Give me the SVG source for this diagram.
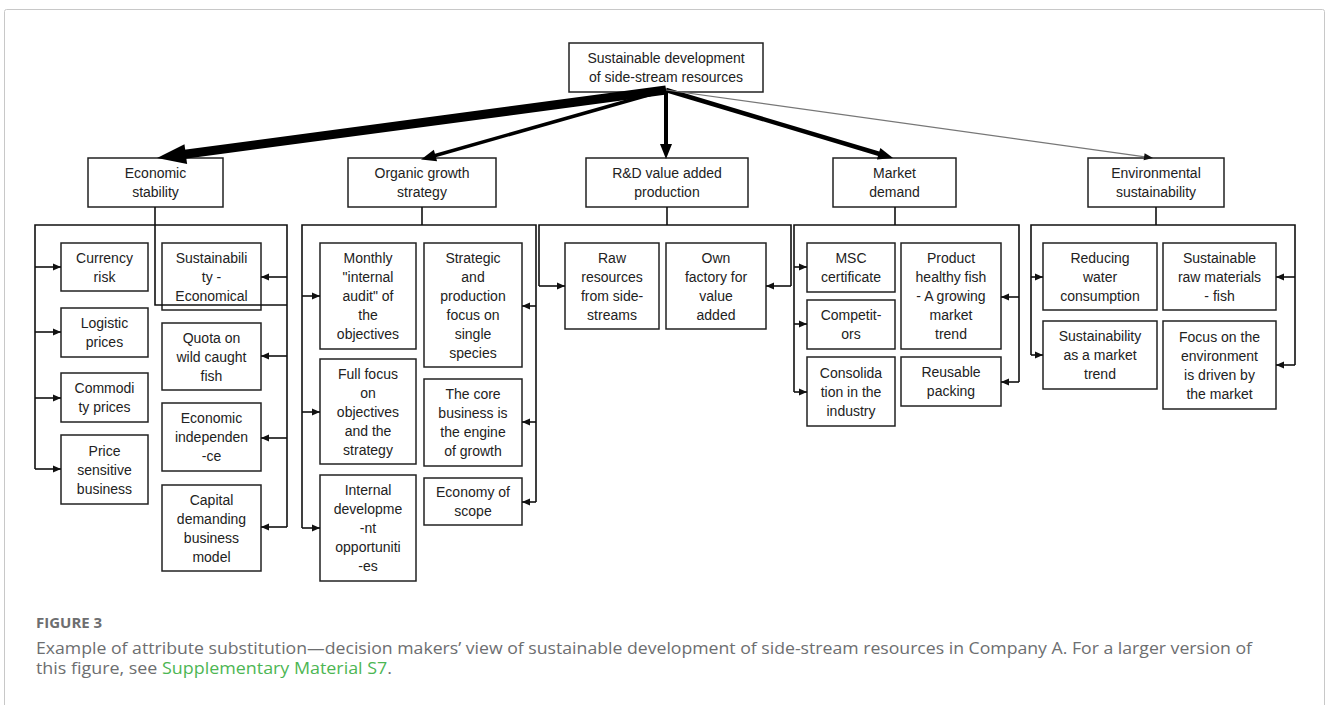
<svg xmlns="http://www.w3.org/2000/svg" width="1328" height="705" viewBox="0 0 1328 705">
<style>
.bx{fill:#fff;stroke:#222;stroke-width:1.5}
.t{font-family:"Liberation Sans",Arial,sans-serif;font-size:14px;fill:#222;text-anchor:middle}
.ln{fill:none;stroke:#111;stroke-width:1.6}
.ar{fill:none;stroke:#111;stroke-width:1.6;marker-end:url(#mb)}
.cap{font-family:"Open Sans","Liberation Sans",sans-serif;fill:#6d6e70}
</style>
<defs>
<marker id="mb" markerUnits="userSpaceOnUse" viewBox="0 0 8 8" markerWidth="8" markerHeight="8" refX="8" refY="4" orient="auto"><path d="M0,0.5 L8,4 L0,7.5 z" fill="#111"/></marker>
<marker id="mxl" markerUnits="userSpaceOnUse" viewBox="0 -10 28 20" markerWidth="28" markerHeight="20" refX="0" refY="0" orient="auto" overflow="visible"><path d="M-1,-10 L28,0 L-1,10 z" fill="#000"/></marker>
<marker id="mmd" markerUnits="userSpaceOnUse" viewBox="0 -6 14 12" markerWidth="14" markerHeight="12" refX="0" refY="0" orient="auto" overflow="visible"><path d="M-1,-6 L14,0 L-1,6 z" fill="#000"/></marker>
<marker id="msm" markerUnits="userSpaceOnUse" viewBox="0 -3.5 8 7" markerWidth="8" markerHeight="7" refX="0" refY="0" orient="auto" overflow="visible"><path d="M-1,-3.5 L8,0 L-1,3.5 z" fill="#111"/></marker>
</defs>
<rect x="4.5" y="9.5" width="1320" height="720" rx="2" fill="none" stroke="#c8c8c8" stroke-width="1"/>

<g id="n-top"><rect class="bx" x="569" y="43" width="194" height="49"/><text class="t"><tspan x="666" y="63">Sustainable development</tspan><tspan x="666" y="82">of side-stream resources</tspan></text></g>

<g id="n-econ"><rect class="bx" x="88" y="158" width="135" height="49"/><text class="t"><tspan x="155.5" y="178">Economic</tspan><tspan x="155.5" y="197">stability</tspan></text></g>
<g id="n-org"><rect class="bx" x="348" y="158" width="148" height="49"/><text class="t"><tspan x="422" y="178">Organic growth</tspan><tspan x="422" y="197">strategy</tspan></text></g>
<g id="n-rd"><rect class="bx" x="586" y="158" width="162" height="49"/><text class="t"><tspan x="667" y="178">R&amp;D value added</tspan><tspan x="667" y="197">production</tspan></text></g>
<g id="n-mkt"><rect class="bx" x="833" y="158" width="123" height="49"/><text class="t"><tspan x="894.5" y="178">Market</tspan><tspan x="894.5" y="197">demand</tspan></text></g>
<g id="n-env"><rect class="bx" x="1088" y="158" width="136" height="49"/><text class="t"><tspan x="1156" y="178">Environmental</tspan><tspan x="1156" y="197">sustainability</tspan></text></g>

<g id="n-currency"><rect class="bx" x="61" y="243" width="87" height="48"/><text class="t"><tspan x="104.5" y="262.5">Currency</tspan><tspan x="104.5" y="281.5">risk</tspan></text></g>
<g id="n-logistic"><rect class="bx" x="61" y="308" width="87" height="49"/><text class="t"><tspan x="104.5" y="328">Logistic</tspan><tspan x="104.5" y="347">prices</tspan></text></g>
<g id="n-commodity"><rect class="bx" x="61" y="373" width="87" height="49"/><text class="t"><tspan x="104.5" y="393">Commodi</tspan><tspan x="104.5" y="412">ty prices</tspan></text></g>
<g id="n-price"><rect class="bx" x="61" y="435" width="87" height="69"/><text class="t"><tspan x="104.5" y="455.5">Price</tspan><tspan x="104.5" y="474.5">sensitive</tspan><tspan x="104.5" y="493.5">business</tspan></text></g>
<g id="n-sustecon"><rect class="bx" x="162" y="243" width="99" height="67"/><text class="t"><tspan x="211.5" y="262.5">Sustainabili</tspan><tspan x="211.5" y="281.5">ty -</tspan><tspan x="211.5" y="300.5">Economical</tspan></text></g>
<g id="n-quota"><rect class="bx" x="162" y="323" width="99" height="67"/><text class="t"><tspan x="211.5" y="342.5">Quota on</tspan><tspan x="211.5" y="361.5">wild caught</tspan><tspan x="211.5" y="380.5">fish</tspan></text></g>
<g id="n-indep"><rect class="bx" x="162" y="403" width="99" height="68"/><text class="t"><tspan x="211.5" y="423">Economic</tspan><tspan x="211.5" y="442">independen</tspan><tspan x="211.5" y="461">-ce</tspan></text></g>
<g id="n-capital"><rect class="bx" x="162" y="485" width="99" height="86"/><text class="t"><tspan x="211.5" y="504.5">Capital</tspan><tspan x="211.5" y="523.5">demanding</tspan><tspan x="211.5" y="542.5">business</tspan><tspan x="211.5" y="561.5">model</tspan></text></g>

<g id="n-monthly"><rect class="bx" x="320" y="243" width="96" height="106"/><text class="t"><tspan x="368" y="263">Monthly</tspan><tspan x="368" y="282">"internal</tspan><tspan x="368" y="301">audit" of</tspan><tspan x="368" y="320">the</tspan><tspan x="368" y="339">objectives</tspan></text></g>
<g id="n-fullfocus"><rect class="bx" x="320" y="359" width="96" height="105"/><text class="t"><tspan x="368" y="378.5">Full focus</tspan><tspan x="368" y="397.5">on</tspan><tspan x="368" y="416.5">objectives</tspan><tspan x="368" y="435.5">and the</tspan><tspan x="368" y="454.5">strategy</tspan></text></g>
<g id="n-internal"><rect class="bx" x="320" y="475" width="96" height="106"/><text class="t"><tspan x="368" y="495">Internal</tspan><tspan x="368" y="514">developme</tspan><tspan x="368" y="533">-nt</tspan><tspan x="368" y="552">opportuniti</tspan><tspan x="368" y="571">-es</tspan></text></g>
<g id="n-strategic"><rect class="bx" x="424" y="243" width="98" height="124"/><text class="t"><tspan x="473" y="262.5">Strategic</tspan><tspan x="473" y="281.5">and</tspan><tspan x="473" y="300.5">production</tspan><tspan x="473" y="319.5">focus on</tspan><tspan x="473" y="338.5">single</tspan><tspan x="473" y="357.5">species</tspan></text></g>
<g id="n-core"><rect class="bx" x="424" y="379" width="98" height="87"/><text class="t"><tspan x="473" y="399">The core</tspan><tspan x="473" y="418">business is</tspan><tspan x="473" y="437">the engine</tspan><tspan x="473" y="456">of growth</tspan></text></g>
<g id="n-scope"><rect class="bx" x="424" y="478" width="98" height="47"/><text class="t"><tspan x="473" y="497">Economy of</tspan><tspan x="473" y="516">scope</tspan></text></g>

<g id="n-raw"><rect class="bx" x="565" y="243" width="94" height="86"/><text class="t"><tspan x="612" y="262.5">Raw</tspan><tspan x="612" y="281.5">resources</tspan><tspan x="612" y="300.5">from side-</tspan><tspan x="612" y="319.5">streams</tspan></text></g>
<g id="n-factory"><rect class="bx" x="666" y="243" width="100" height="86"/><text class="t"><tspan x="716" y="262.5">Own</tspan><tspan x="716" y="281.5">factory for</tspan><tspan x="716" y="300.5">value</tspan><tspan x="716" y="319.5">added</tspan></text></g>

<g id="n-msc"><rect class="bx" x="807" y="243" width="88" height="49"/><text class="t"><tspan x="851" y="263">MSC</tspan><tspan x="851" y="282">certificate</tspan></text></g>
<g id="n-competitors"><rect class="bx" x="807" y="300" width="88" height="49"/><text class="t"><tspan x="851" y="320">Competit-</tspan><tspan x="851" y="339">ors</tspan></text></g>
<g id="n-consolidation"><rect class="bx" x="807" y="357" width="88" height="69"/><text class="t"><tspan x="851" y="377.5">Consolida</tspan><tspan x="851" y="396.5">tion in the</tspan><tspan x="851" y="415.5">industry</tspan></text></g>
<g id="n-product"><rect class="bx" x="901" y="243" width="100" height="106"/><text class="t"><tspan x="951" y="263">Product</tspan><tspan x="951" y="282">healthy fish</tspan><tspan x="951" y="301">- A growing</tspan><tspan x="951" y="320">market</tspan><tspan x="951" y="339">trend</tspan></text></g>
<g id="n-reusable"><rect class="bx" x="901" y="357" width="100" height="49"/><text class="t"><tspan x="951" y="377">Reusable</tspan><tspan x="951" y="396">packing</tspan></text></g>

<g id="n-water"><rect class="bx" x="1043" y="243" width="114" height="67"/><text class="t"><tspan x="1100" y="262.5">Reducing</tspan><tspan x="1100" y="281.5">water</tspan><tspan x="1100" y="300.5">consumption</tspan></text></g>
<g id="n-susttrend"><rect class="bx" x="1043" y="321" width="114" height="68"/><text class="t"><tspan x="1100" y="341">Sustainability</tspan><tspan x="1100" y="360">as a market</tspan><tspan x="1100" y="379">trend</tspan></text></g>
<g id="n-rawfish"><rect class="bx" x="1163" y="243" width="113" height="67"/><text class="t"><tspan x="1219.5" y="262.5">Sustainable</tspan><tspan x="1219.5" y="281.5">raw materials</tspan><tspan x="1219.5" y="300.5">- fish</tspan></text></g>
<g id="n-focusenv"><rect class="bx" x="1163" y="321" width="113" height="88"/><text class="t"><tspan x="1219.5" y="341.5">Focus on the</tspan><tspan x="1219.5" y="360.5">environment</tspan><tspan x="1219.5" y="379.5">is driven by</tspan><tspan x="1219.5" y="398.5">the market</tspan></text></g>

<g id="connectors">
<line x1="666" y1="90" x2="184.8" y2="154.3" stroke="#000" stroke-width="9" marker-end="url(#mxl)"/>
<line x1="666" y1="90" x2="434.5" y2="155.7" stroke="#000" stroke-width="3.5" marker-end="url(#mmd)"/>
<line x1="666" y1="91" x2="666" y2="145" stroke="#000" stroke-width="4" marker-end="url(#mmd)"/>
<line x1="666" y1="90" x2="879.6" y2="154" stroke="#000" stroke-width="4.5" marker-end="url(#mmd)"/>
<line x1="666" y1="90" x2="1145.1" y2="156.9" stroke="#777" stroke-width="1.2" marker-end="url(#msm)"/>

<path class="ln" d="M155,207 V305 H287 M35,469 V225 H287 V527"/>
<line class="ar" x1="35" y1="267" x2="61" y2="267"/>
<line class="ar" x1="35" y1="332" x2="61" y2="332"/>
<line class="ar" x1="35" y1="398" x2="61" y2="398"/>
<line class="ar" x1="35" y1="469" x2="61" y2="469"/>
<line class="ar" x1="287" y1="277" x2="261" y2="277"/>
<line class="ar" x1="287" y1="356" x2="261" y2="356"/>
<line class="ar" x1="287" y1="438" x2="261" y2="438"/>
<line class="ar" x1="287" y1="527" x2="261" y2="527"/>

<path class="ln" d="M422,207 V225 M302,528 V225 H536 V502"/>
<line class="ar" x1="302" y1="296" x2="320" y2="296"/>
<line class="ar" x1="302" y1="412" x2="320" y2="412"/>
<line class="ar" x1="302" y1="528" x2="320" y2="528"/>
<line class="ar" x1="536" y1="306" x2="522" y2="306"/>
<line class="ar" x1="536" y1="422" x2="522" y2="422"/>
<line class="ar" x1="536" y1="502" x2="522" y2="502"/>

<path class="ln" d="M667,207 V225 M539,286 V225 H791 V286"/>
<line class="ar" x1="539" y1="286" x2="565" y2="286"/>
<line class="ar" x1="791" y1="286" x2="766" y2="286"/>

<path class="ln" d="M895,207 V225 M794,392 V225 H1019 V382"/>
<line class="ar" x1="794" y1="267" x2="807" y2="267"/>
<line class="ar" x1="794" y1="324" x2="807" y2="324"/>
<line class="ar" x1="794" y1="392" x2="807" y2="392"/>
<line class="ar" x1="1019" y1="297" x2="1001" y2="297"/>
<line class="ar" x1="1019" y1="382" x2="1001" y2="382"/>

<path class="ln" d="M1156,207 V225 M1031,355 V225 H1295 V365"/>
<line class="ar" x1="1031" y1="277" x2="1043" y2="277"/>
<line class="ar" x1="1031" y1="355" x2="1043" y2="355"/>
<line class="ar" x1="1295" y1="277" x2="1276" y2="277"/>
<line class="ar" x1="1295" y1="365" x2="1276" y2="365"/>
</g>

<g id="caption">
<text class="cap" x="36" y="628" font-size="15" font-weight="bold" fill="#58595b">FIGURE 3</text>
<text class="cap" x="36" y="654" font-size="16" textLength="1216" lengthAdjust="spacingAndGlyphs">Example of attribute substitution—decision makers’ view of sustainable development of side-stream resources in Company A. For a larger version of</text>
<text class="cap" x="36" y="674" font-size="16" textLength="356" lengthAdjust="spacingAndGlyphs">this figure, see <tspan fill="#4cb653">Supplementary Material S7</tspan>.</text>
</g>
</svg>
